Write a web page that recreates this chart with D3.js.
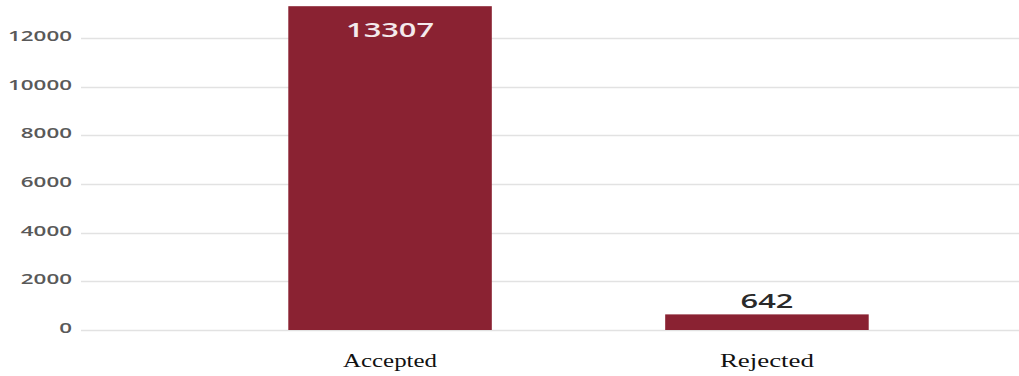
<!DOCTYPE html>
<html>
<head>
<meta charset="utf-8">
<script src="https://cdn.jsdelivr.net/npm/d3@7"></script>
<style>
  html, body { margin: 0; padding: 0; background: #fff; overflow: hidden; }
  svg { display: block; }
</style>
</head>
<body>
<svg id="chart"></svg>
<script>
// data
const categories = ["Accepted", "Rejected"];
const counts = [13307, 642];
const yTicks = [0, 2000, 4000, 6000, 8000, 10000, 12000];

const outerW = 1019, outerH = 376;
const svg = d3.select("#chart").attr("width", outerW).attr("height", outerH);

const x = d3.scaleBand().domain(categories).range([81, 1076]).paddingInner(0.46).paddingOuter(0.55);
const y = d3.scaleLinear().domain([0, 12000]).range([330, 38]);

// gridlines
svg.append("g").selectAll("line").data(yTicks).join("line")
  .attr("x1", 81).attr("x2", outerW)
  .attr("y1", d => Math.round(y(d)) + 0.5).attr("y2", d => Math.round(y(d)) + 0.5)
  .attr("stroke", "#e2e2e2").attr("stroke-width", 1.5);

// y tick labels (source image is stretched horizontally, so widen glyphs with textLength)
const tickW = d => String(d).length * 12.8;
svg.append("g").selectAll("text").data(yTicks).join("text")
  .attr("x", d => 72 - tickW(d)).attr("y", d => y(d) + 3)
  .attr("font-family", "Open Sans, sans-serif").attr("font-size", 15).attr("font-weight", 600).attr("fill", "#595959")
  .attr("textLength", tickW).attr("lengthAdjust", "spacingAndGlyphs")
  .text(d => d);

// bars
svg.append("g").selectAll("rect").data(categories).join("rect")
  .attr("x", d => x(d)).attr("width", x.bandwidth())
  .attr("y", (d, i) => y(counts[i])).attr("height", (d, i) => y(0) - y(counts[i]))
  .attr("fill", "#8a2232");

// value labels: inside the tall bar, above the short one
const valW = v => String(v).length * 17.6;
svg.append("g").selectAll("text").data(categories).join("text")
  .attr("x", (d, i) => x(d) + x.bandwidth() / 2 - valW(counts[i]) / 2)
  .attr("y", (d, i) => counts[i] > 6000 ? y(counts[i]) + 31 : y(counts[i]) - 6)
  .attr("font-family", "Open Sans, sans-serif").attr("font-size", 20).attr("font-weight", 600)
  .attr("fill", (d, i) => counts[i] > 6000 ? "#f4eaec" : "#2a2a2a")
  .attr("textLength", (d, i) => valW(counts[i])).attr("lengthAdjust", "spacingAndGlyphs")
  .text((d, i) => counts[i]);

// category labels
svg.append("g").selectAll("text").data(categories).join("text")
  .attr("x", d => x(d) + x.bandwidth() / 2).attr("y", 367)
  .attr("text-anchor", "middle")
  .attr("font-family", "Liberation Serif, Times New Roman, serif").attr("font-size", 18).attr("fill", "#111")
  .attr("textLength", 94).attr("lengthAdjust", "spacingAndGlyphs")
  .text(d => d);
</script>
</body>
</html>
